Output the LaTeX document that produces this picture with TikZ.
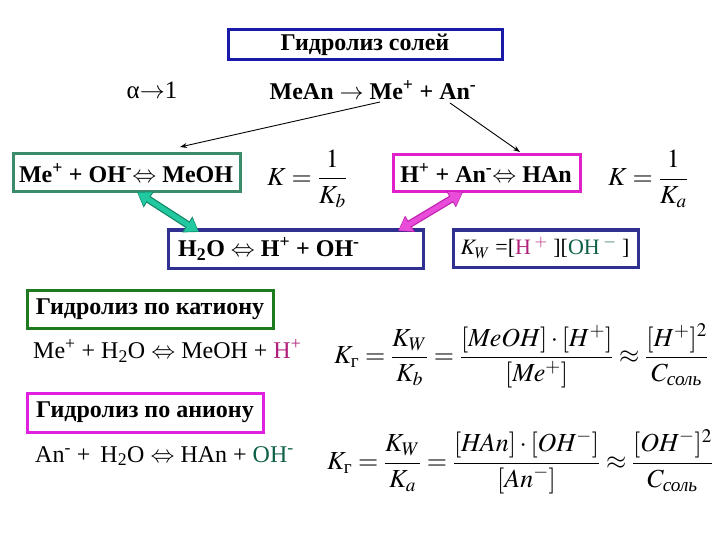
\documentclass[tikz,border=0pt]{standalone}
\usepackage{amsmath}
\usepackage{mathptmx}
\usepackage{fontspec}
\setmainfont{Liberation Serif}
\usetikzlibrary{arrows.meta}
\definecolor{titleblue}{HTML}{1A1AAA}
\definecolor{boxteal}{HTML}{3A8C6C}
\definecolor{boxmag}{HTML}{E020C8}
\definecolor{boxblue}{HTML}{303090}
\definecolor{boxgreen}{HTML}{1E7A1E}
\definecolor{boxmag2}{HTML}{E020E0}
\definecolor{hplus}{HTML}{B0207A}
\definecolor{ohmin}{HTML}{0E6048}
\definecolor{arrteal}{HTML}{22C8A0}
\definecolor{arrtealdk}{HTML}{128868}
\definecolor{arrmag}{HTML}{EA4CDA}
\definecolor{arrmagdk}{HTML}{C020B0}
\newcommand{\bigtxt}{\fontsize{24}{28}\selectfont}
\newcommand{\midtxt}{\fontsize{22}{26}\selectfont}
\newcommand{\mathtxt}{\fontsize{26}{30}\selectfont}
\tikzset{
  framebox/.style={draw, line width=3pt, inner sep=0pt},
  btext/.style={font=\bigtxt\bfseries, inner sep=0pt},
  rtext/.style={font=\bigtxt, inner sep=0pt},
  mtext/.style={font=\midtxt, inner sep=0pt},
  ftext/.style={font=\mathtxt, inner sep=0pt},
  thinarrow/.style={-{Stealth[length=7pt,width=5pt]}, line width=0.9pt},
}
\begin{document}
\begin{tikzpicture}[x=1pt,y=-1pt]
\useasboundingbox (0,0) rectangle (720,540);
% title
\draw[framebox, titleblue] (228,30) rectangle (502,60);
\node[btext] (title) at (365,45) {Гидролиз солей};
\node[rtext, font=\fontsize{25}{29}\selectfont] (alpha) at (152,90) {α$\rightarrow$1};
\node[btext] (mean) at (373,90) {MeAn $\rightarrow$ Me\textsuperscript{+} + An\textsuperscript{-}};
% first row
\draw[framebox, boxteal] (13,154) rectangle (240,192);
\node[btext] (meoh) at (126,173) {Me\textsuperscript{+} + OH\textsuperscript{-}$\Leftrightarrow$ MeOH};
\draw[framebox, boxmag] (393,155) rectangle (580,192);
\node[btext] (han) at (486,173) {H\textsuperscript{+} + An\textsuperscript{-}$\Leftrightarrow$ HAn};
\node[ftext] (kb) at (307,179) {$K=\dfrac{1}{K_b}$};
\node[ftext] (ka) at (648,179) {$K=\dfrac{1}{K_a}$};
% second row
\draw[framebox, boxblue] (168,230) rectangle (423,268);
\node[btext, anchor=west] (water) at (178,249) {H\textsubscript{2}O $\Leftrightarrow$ H\textsuperscript{+} + OH\textsuperscript{-}};
\draw[framebox, boxblue] (453,230) rectangle (638,267);
\node[mtext] (kw) at (545,248) {$K_W$ =[\textcolor{hplus}{H\,$^+$} ][\textcolor{ohmin}{OH\,$^-$} ]};
% connectors from MeAn
\coordinate (s1) at (380,102);
\coordinate (e1) at (180,147);
\coordinate (s2) at (450,103);
\coordinate (e2) at (520,152);
\draw[thinarrow] (s1) -- (e1);
\draw[thinarrow] (s2) -- (e2);
% fat double arrows
\coordinate (g1) at (137,192);
\coordinate (g2) at (199,232);
\coordinate (m1) at (463,192);
\coordinate (m2) at (398,231);
\draw[arrtealdk, line width=7.5pt, {Triangle[length=14pt,width=18pt]}-{Triangle[length=14pt,width=18pt]}] (g1) -- (g2);
\draw[arrteal, line width=5pt, shorten <=1pt, shorten >=1pt, {Triangle[length=12pt,width=15pt]}-{Triangle[length=12pt,width=15pt]}] (g1) -- (g2);
\draw[arrmagdk, line width=7.5pt, {Triangle[length=14pt,width=18pt]}-{Triangle[length=14pt,width=18pt]}] (m1) -- (m2);
\draw[arrmag, line width=5pt, shorten <=1pt, shorten >=1pt, {Triangle[length=12pt,width=15pt]}-{Triangle[length=12pt,width=15pt]}] (m1) -- (m2);
% cation hydrolysis
\draw[framebox, boxgreen] (27,290) rectangle (273,328);
\node[btext] (cat) at (150,309) {Гидролиз по катиону};
\node[rtext, anchor=west] (rcat) at (33,351) {Me\textsuperscript{+} + H\textsubscript{2}O $\Leftrightarrow$ MeOH + \textcolor{hplus}{H\textsuperscript{+}}};
\node[ftext, anchor=west] (fcat) at (334,356) {$K_{\text{г}}=\dfrac{K_W}{K_b}=\dfrac{[\mathit{MeOH}]\cdot[H^+]}{[\mathit{Me}^+]}\approx\dfrac{[H^+]^2}{C_{\textit{соль}}}$};
% anion hydrolysis
\draw[framebox, boxmag2] (27,393) rectangle (263,432);
\node[btext] (an) at (145,412) {Гидролиз по аниону};
\node[rtext, anchor=west] (ran) at (35,456) {An\textsuperscript{-} + \,H\textsubscript{2}O $\Leftrightarrow$ HAn + \textcolor{ohmin}{OH\textsuperscript{-}}};
\node[ftext, anchor=west] (fan) at (327,462) {$K_{\text{г}}=\dfrac{K_W}{K_a}=\dfrac{[\mathit{HAn}]\cdot[\mathit{OH}^-]}{[\mathit{An}^-]}\approx\dfrac{[\mathit{OH}^-]^2}{C_{\textit{соль}}}$};
\end{tikzpicture}
\end{document}
